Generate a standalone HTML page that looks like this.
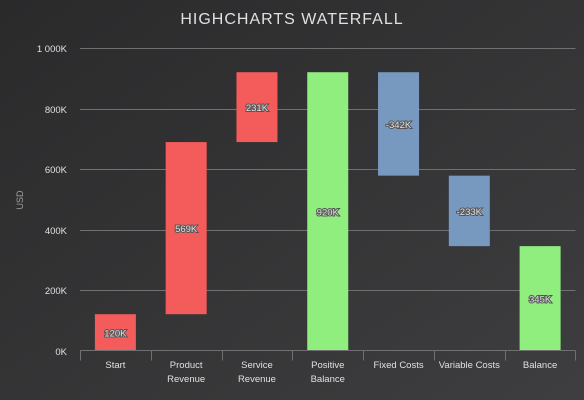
<!DOCTYPE html>
<html><head><meta charset="utf-8"><style>
html,body{margin:0;padding:0;background:#333335;}
svg{display:block;font-family:"Liberation Sans",sans-serif;}
</style></head><body>
<svg id="chart" width="584" height="400" xmlns="http://www.w3.org/2000/svg">
<defs><linearGradient id="bg" x1="0" y1="0" x2="1" y2="1"><stop offset="0" stop-color="#2a2a2b"/><stop offset="1" stop-color="#3e3e40"/></linearGradient></defs>
<rect width="584" height="400" fill="url(#bg)"/>
<text x="292" y="24" text-anchor="middle" fill="#E0E0E3" font-size="16" letter-spacing="1">HIGHCHARTS WATERFALL</text>
<text transform="translate(23,200) rotate(-90)" text-anchor="middle" fill="#A0A0A3" font-size="9">USD</text>
<g id="grid"></g><g id="bars"></g><g id="xaxis"></g>
</svg>
<script>
const categories=["Start","Product Revenue","Service Revenue","Positive Balance","Fixed Costs","Variable Costs","Balance"];
const values=[120000,569000,231000,null,-342000,-233000,null];
const sumTypes=[null,null,null,"intermediate",null,null,"sum"];
const yTicks=[0,200000,400000,600000,800000,1000000];
const yTickLabels=["0K","200K","400K","600K","800K","1 000K"];
const labelsText=[["Start"],["Product","Revenue"],["Service","Revenue"],["Positive","Balance"],["Fixed Costs"],["Variable Costs"],["Balance"]];
const NS="http://www.w3.org/2000/svg";
const X0=80,X1=575.5,Y0=350.5,Y1=48,YMAX=1000000;
const cw=(X1-X0)/categories.length;
const y=v=>Y0-(v/YMAX)*(Y0-Y1);
const xc=i=>X0+cw*(i+0.5);
function mk(tag,attrs,parent,text){const e=document.createElementNS(NS,tag);for(const k in attrs)e.setAttribute(k,attrs[k]);if(text!=null)e.textContent=text;parent.appendChild(e);return e;}
const grid=document.getElementById('grid'),bars=document.getElementById('bars'),xa=document.getElementById('xaxis');
yTicks.forEach((t,i)=>{
 const yy=Math.round(y(t))+0.5;
 if(t>0){const l=mk('line',{x1:X0,x2:X1,y1:yy,y2:yy,stroke:'#707073','stroke-width':1},grid);
 
 }
 const tx=mk('text',{x:67,y:yy+3.5,'text-anchor':'end',fill:'#E0E0E3','font-size':'9.5'},grid,yTickLabels[i]);
 
 
});
let running=0;
categories.forEach((c,i)=>{
 let lo,hi,v,color;
 if(sumTypes[i]){v=running;lo=0;hi=running;color='#90ee7e';}
 else{v=values[i];const s=running;running+=v;lo=Math.min(s,running);hi=Math.max(s,running);color=v<0?'#7798BF':'#f45b5b';}
 const bw=41;
 const r=mk('rect',{x:xc(i)-bw/2,y:y(hi),width:bw,height:y(lo)-y(hi),fill:color},bars);
 
 
 const lbl=(v<0?'-':'')+Math.round(Math.abs(v)/1000)+'K';
 const t=mk('text',{x:xc(i),y:(y(lo)+y(hi))/2+4,'text-anchor':'middle',fill:'#E0E0E3','font-size':'9.5',stroke:'#555','stroke-width':'2','paint-order':'stroke'},bars,lbl);
 
 
 const tk=mk('line',{x1:Math.round(X0+cw*i)+0.5,x2:Math.round(X0+cw*i)+0.5,y1:Y0,y2:Y0+10,stroke:'#707073'},xa);
 
 
 labelsText[i].forEach((ln,j)=>{
  const xt=mk('text',{x:xc(i),y:368+j*14,'text-anchor':'middle',fill:'#E0E0E3','font-size':'9.5'},xa,ln);
  
  
 });
});
const tkEnd=mk('line',{x1:X1,x2:X1,y1:Y0,y2:Y0+10,stroke:'#707073'},xa);


const ax=mk('line',{x1:X0,x2:X1,y1:Y0,y2:Y0,stroke:'#707073'},xa);


</script>
</body></html>
